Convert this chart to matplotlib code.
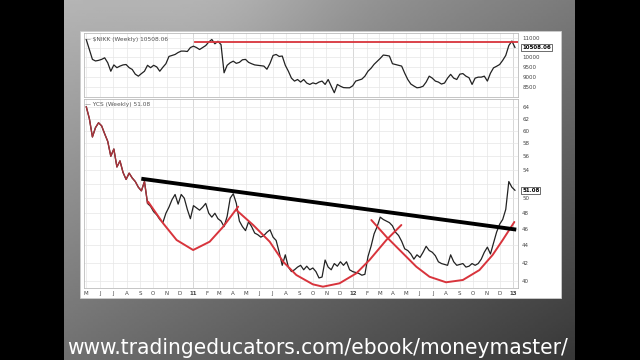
import matplotlib
matplotlib.use("Agg")
import matplotlib.pyplot as plt
from matplotlib.patches import Rectangle
import numpy as np
import pandas as pd

# weekly closes, first week of May 2010 -> mid Jan 2013
nikk = [10900, 10400, 9900, 9820, 9850, 9900, 9980, 9730, 9300, 9620,
        9480, 9560, 9620, 9640, 9480, 9390, 9150, 9050, 9180, 9300,
        9600, 9480, 9600, 9520, 9300, 9500, 9680, 10050, 10100, 10150,
        10250, 10320, 10320, 10300, 10500, 10570, 10500, 10400, 10500, 10600,
        10780, 10910, 10690, 10820, 10650, 9220, 9600, 9730, 9810, 9700,
        9750, 9880, 9900, 9750, 9680, 9620, 9600, 9580, 9560, 9400,
        9700, 10100, 10150, 10050, 10070, 9600, 9300, 8950, 8800, 8880,
        8750, 8880, 8700, 8630, 8710, 8660, 8750, 8800, 8630, 8880,
        8540, 8210, 8630, 8540, 8470, 8460, 8460, 8560, 8800, 8850,
        8900, 9050, 9300, 9450, 9650, 9800, 9950, 10120, 10100, 10070,
        9680, 9640, 9600, 9560, 9200, 8880, 8650, 8550, 8460, 8480,
        8540, 8750, 9050, 8950, 8800, 8750, 8650, 8700, 8950, 9140,
        8950, 8880, 9150, 9180, 9050, 8970, 8630, 8950, 9000, 9000,
        9050, 8800, 9200, 9470, 9550, 9640, 9850, 10100, 10600, 10830,
        10508.06]

ycs = [64.0, 62.0, 59.0, 60.5, 61.3, 60.8, 59.5, 58.3, 56.0, 57.1,
       54.4, 55.3, 53.6, 52.6, 53.5, 52.8, 52.3, 51.5, 51.0, 52.3,
       49.3, 48.9, 48.2, 47.8, 47.2, 46.8, 48.0, 48.8, 49.8, 50.5,
       49.2, 50.5, 50.0, 48.5, 47.3, 49.0, 48.7, 48.4, 48.8, 49.3,
       48.0, 47.5, 48.0, 47.3, 47.0, 46.3, 47.6, 50.0, 50.6, 49.3,
       47.0, 46.3, 45.8, 46.9, 46.3, 45.5, 45.3, 45.0, 45.2, 45.6,
       45.9, 45.0, 44.6, 43.2, 41.7, 42.9, 41.5, 41.0, 41.2, 41.5,
       41.7, 41.2, 41.6, 41.2, 41.4, 41.0, 40.3, 40.4, 42.3, 41.5,
       41.2, 41.9, 41.6, 42.1, 41.7, 42.1, 41.2, 41.0, 40.9, 40.8,
       40.6, 40.7, 42.7, 43.9, 45.4, 46.3, 47.5, 47.2, 47.0, 46.8,
       46.4, 45.6, 45.2, 44.5, 43.6, 43.4, 43.0, 42.4, 42.9, 42.6,
       43.2, 43.9, 43.4, 43.2, 42.8, 42.1, 41.9, 41.8, 41.7, 42.9,
       42.1, 41.7, 41.8, 41.9, 41.5, 41.6, 41.9, 41.7, 41.9, 42.4,
       43.2, 43.8, 43.0, 44.3, 45.6, 46.6, 47.2, 48.5, 52.3, 51.5,
       51.08]

# hand-drawn annotations (week, value)
neck_w = [18.6, 139.8]
neck_v = [52.66, 45.96]
cup1_w = [20.2, 25.1, 29.5, 34.9, 40.3, 44.7, 49.6]
cup1_v = [49.52, 46.71, 44.65, 43.46, 44.45, 46.28, 48.86]
cup2_w = [49.0, 54.5, 59.9, 64.3, 68.6, 74.0, 77.3, 82.7, 88.2, 92.5, 98.0, 102.9]
cup2_v = [48.42, 46.50, 44.45, 42.11, 40.62, 39.61, 39.36, 39.72, 40.81, 42.30, 44.65, 46.50]
cup3_w = [93.1, 98.0, 103.4, 107.8, 112.1, 117.5, 123.0, 128.4, 132.7, 136.0, 139.8]
cup3_v = [47.13, 45.05, 43.08, 41.54, 40.43, 39.83, 40.08, 41.17, 42.88, 44.65, 46.88]
resist_w = [35.5, 141.0]
resist_v = [10780, 10780]

start = pd.Timestamp("2010-05-01")
months = pd.date_range("2010-05-01", "2013-01-01", freq="MS")
month_pos = [(m - start).days / 7 for m in months]
month_lab = [m.strftime("%y") if m.month == 1 else m.strftime("%b")[0] for m in months]

W, H = 640, 360
fig = plt.figure(figsize=(6.4, 3.6), dpi=100)
fig.patch.set_facecolor("black")

# --- slide background ---------------------------------------
bg = fig.add_axes([0, 0, 1, 1])
bg.set_xlim(0, W)
bg.set_ylim(H, 0)
bg.axis("off")
gx, gy = np.meshgrid(np.linspace(0, 1, 200), np.linspace(0, 1, 120))
grad = 0.70 - 0.22 * gx - 0.26 * gy + 0.06 * np.exp(-((gx - 0.3) ** 2) / 0.05 - (gy ** 2) / 0.1)
bg.imshow(grad, cmap="gray", vmin=0, vmax=1, extent=[64, 575, H, 0], aspect="auto")
bg.add_patch(Rectangle((80, 31), 481, 267, facecolor="white", edgecolor="#cccccc", lw=0.6))
bg.text(318, 354, "www.tradingeducators.com/ebook/moneymaster/", color="white",
        fontsize=16.2, ha="center", va="baseline",
        family=["DejaVu Sans Condensed", "DejaVu Sans"], fontstretch="condensed")

x_lo, x_hi = -0.75, 141.0
grid_c = "#e6e6e6"
year_c = "#c8c8c8"


def style(ax):
    ax.set_xlim(x_lo, x_hi)
    for p, lab in zip(month_pos, month_lab):
        ax.axvline(p, color=year_c if lab.isdigit() else grid_c, lw=0.5, zorder=0)
    ax.grid(axis="y", color=grid_c, lw=0.5)
    ax.set_axisbelow(True)
    for s in ax.spines.values():
        s.set_color("#bbbbbb")
        s.set_linewidth(0.6)
    ax.yaxis.tick_right()
    ax.tick_params(axis="y", length=0, labelsize=4, pad=3, colors="#444444")


# --- top panel: $NIKK --------------------------------------------
ax1 = fig.add_axes([84 / W, 1 - 97 / H, 434 / W, 64 / H])
style(ax1)
ax1.set_ylim(7993, 11238)
ax1.set_yticks([8500, 9000, 9500, 10000, 10500, 11000])
ax1.set_yticklabels(["8500", "9000", "9500", "10000", "", "11000"])
ax1.set_xticks([])
ax1.plot(np.arange(len(nikk)), nikk, color="#222222", lw=0.9)
ax1.plot(resist_w, resist_v, color="#d8343c", lw=1.3)
ax1.text(0.003, 0.93, "\u2014 $NIKK (Weekly) 10508.06", transform=ax1.transAxes,
         fontsize=4.2, color="#555555", va="top")
ax1.annotate("10508.06", xy=(1.0, nikk[-1]), xycoords=("axes fraction", "data"),
             xytext=(3, 0), textcoords="offset points", fontsize=4, fontweight="bold",
             va="center", ha="left",
             bbox=dict(boxstyle="square,pad=0.15", fc="white", ec="#333333", lw=0.5))

# --- bottom panel: YCS -------------------------------------------
ax2 = fig.add_axes([84 / W, 1 - 288 / H, 434 / W, 189 / H])
style(ax2)
ax2.set_yscale("log")
ax2.set_ylim(39.22, 65.37)
yt = list(range(40, 65, 2))
ax2.set_yticks(yt)
ax2.set_yticklabels([str(v) if v != 52 else "" for v in yt])
ax2.yaxis.set_minor_locator(matplotlib.ticker.NullLocator())
ax2.set_xticks(month_pos)
ax2.set_xticklabels(month_lab)
for t, lab in zip(ax2.get_xticklabels(), month_lab):
    t.set_fontweight("bold" if lab.isdigit() else "normal")
ax2.tick_params(axis="x", length=0, labelsize=4, pad=2, colors="#444444")

ax2.plot(np.arange(len(ycs)), ycs, color="#222222", lw=0.9, zorder=3)
ax2.plot(np.arange(21), ycs[:21], color="#a8323a", lw=1.0, zorder=4)
red = "#d8343c"
for cw, cv in [(cup1_w, cup1_v), (cup2_w, cup2_v), (cup3_w, cup3_v)]:
    ax2.plot(cw, cv, color=red, lw=1.4, zorder=4, solid_capstyle="round")
ax2.plot(neck_w, neck_v, color="black", lw=2.8, zorder=5)
ax2.text(0.003, 0.985, "\u2014 YCS (Weekly) 51.08", transform=ax2.transAxes,
         fontsize=4.2, color="#555555", va="top")
ax2.annotate("51.08", xy=(1.0, ycs[-1]), xycoords=("axes fraction", "data"),
             xytext=(3, 0), textcoords="offset points", fontsize=4, fontweight="bold",
             va="center", ha="left",
             bbox=dict(boxstyle="square,pad=0.15", fc="white", ec="#333333", lw=0.5))

fig.savefig("out.png", dpi=100, facecolor=fig.get_facecolor())
